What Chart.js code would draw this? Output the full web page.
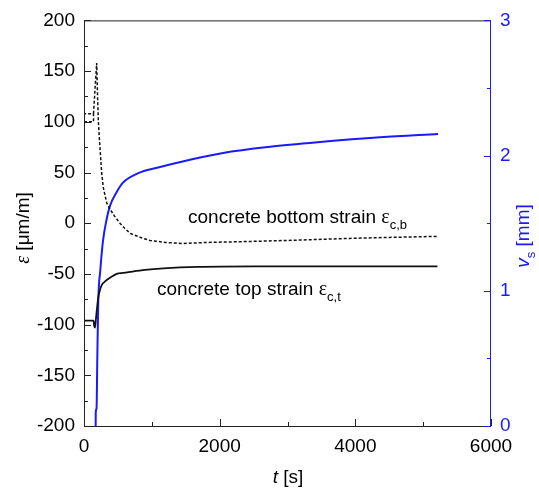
<!DOCTYPE html>
<html>
<head>
<meta charset="utf-8">
<script src="https://cdn.jsdelivr.net/npm/chart.js@4"></script>
<style>
  body { margin: 0; background: #fff; }
  #wrap { width: 539px; height: 491px; }
</style>
</head>
<body>
<div id="wrap"><canvas id="strainChart" width="539" height="491"></canvas></div>
<script>
// concrete bottom strain (dashed), null = break in the line
var bottomT = [0, 140, 140, 0, null, 140, 165, 187, 200, 212, 225, 240, 260, 285, 335, 383, 450, 530, 600, 680, 870, 975, 1200, 1460, 1800, 2450, 3000, 3920, 4500, 5210];
var bottomStrain = [100, 100, 108, 108, null, 108, 135, 158, 125, 100, 85, 70, 50, 35, 20, 14, 7, 0, -5, -10, -15, -17, -19, -20, -19, -18, -17, -15, -14, -13];

// concrete top strain (solid)
var topT = [0, 140, 150, 162, 175, 190, 211, 235, 261, 300, 335, 400, 482, 580, 678, 900, 1170, 1670, 2500, 3500, 4500, 5210];
var topStrain = [-96, -96, -101, -103, -95, -85, -73, -66, -61, -58, -56, -53, -50, -49, -48, -46, -44.5, -43, -42.5, -42.5, -42.5, -42.5];

// slip v_s (blue, right axis)
var slipT = [172, 173, 185, 196, 211, 240, 280, 330, 384, 470, 575, 800, 1077, 1563, 2050, 2743, 3480, 4366, 5220];
var slip = [0, 0.1, 0.13, 0.5, 0.93, 1.15, 1.37, 1.52, 1.63, 1.72, 1.80, 1.87, 1.91, 1.97, 2.02, 2.065, 2.10, 2.135, 2.16];

var xTicks = [0, 2000, 4000, 6000];
var yTicks = [-200, -150, -100, -50, 0, 50, 100, 150, 200];
var y2Ticks = [0, 1, 2, 3];

var BLUE = '#1a1aff';
var FONT = '"Liberation Sans", Arial, sans-serif';

function pts(xs, ys) {
    return xs.map(function(x, i) {
        return { x: x === null ? NaN : x, y: ys[i] };
    });
}

var framePlugin = {
    id: 'frame',
    afterDraw: function(chart) {
        var ctx = chart.ctx;
        var a = chart.chartArea;
        var sx = chart.scales.x, sy = chart.scales.y, sy2 = chart.scales.y2;
        ctx.save();
        ctx.lineWidth = 1;

        // frame
        ctx.strokeStyle = '#222';
        ctx.beginPath();
        ctx.moveTo(a.right, a.top + 0.5);
        ctx.lineTo(a.left + 0.5, a.top + 0.5);
        ctx.lineTo(a.left + 0.5, a.bottom + 0.5);
        ctx.lineTo(a.right, a.bottom + 0.5);
        ctx.stroke();

        // inward ticks
        ctx.beginPath();
        for (var t = 0; t <= 6000; t += 1000) {
            var px = Math.round(sx.getPixelForValue(t)) + 0.5;
            var len = t % 2000 === 0 ? 7 : 4;
            ctx.moveTo(px, a.bottom);
            ctx.lineTo(px, a.bottom - len);
        }
        for (var v = -200; v <= 200; v += 25) {
            var py = Math.round(sy.getPixelForValue(v)) + 0.5;
            var l2 = v % 50 === 0 ? 7 : 4;
            ctx.moveTo(a.left, py);
            ctx.lineTo(a.left + l2, py);
        }
        ctx.stroke();

        ctx.strokeStyle = BLUE;
        ctx.beginPath();
        ctx.moveTo(a.right - 0.5, a.top);
        ctx.lineTo(a.right - 0.5, a.bottom + 1);
        for (var s = 0; s <= 3; s += 0.5) {
            var py2 = Math.round(sy2.getPixelForValue(s)) + 0.5;
            var l3 = s % 1 === 0 ? 7 : 4;
            ctx.moveTo(a.right, py2);
            ctx.lineTo(a.right - l3, py2);
        }
        ctx.stroke();

        ctx.fillStyle = '#000';
        ctx.textBaseline = 'middle';

        // curve labels
        drawLabel(ctx, sx.getPixelForValue(1534), sy.getPixelForValue(5), 'concrete bottom strain ', 'c,b');
        drawLabel(ctx, sx.getPixelForValue(1077), sy.getPixelForValue(-66), 'concrete top strain ', 'c,t');

        // x title
        ctx.font = 'italic 19px ' + FONT;
        var w1 = ctx.measureText('t').width;
        ctx.font = '19px ' + FONT;
        var w2 = ctx.measureText(' [s]').width;
        var x0 = 288 - (w1 + w2) / 2;
        ctx.font = 'italic 19px ' + FONT;
        ctx.fillText('t', x0, 478);
        ctx.font = '19px ' + FONT;
        ctx.fillText(' [s]', x0 + w1, 478);

        // left title
        ctx.save();
        ctx.translate(24, 228);
        ctx.rotate(-Math.PI / 2);
        ctx.font = 'italic 20px "Liberation Serif", serif';
        var e1 = ctx.measureText('\u03b5').width;
        ctx.font = '19px ' + FONT;
        var e2 = ctx.measureText(' [\u03bcm/m]').width;
        var ex = -(e1 + e2) / 2;
        ctx.font = 'italic 20px "Liberation Serif", serif';
        ctx.fillText('\u03b5', ex, 0);
        ctx.font = '19px ' + FONT;
        ctx.fillText(' [\u03bcm/m]', ex + e1, 0);
        ctx.restore();

        // right title
        ctx.save();
        ctx.fillStyle = BLUE;
        ctx.translate(524, 236);
        ctx.rotate(-Math.PI / 2);
        ctx.font = 'italic 19px ' + FONT;
        var r1 = ctx.measureText('v').width;
        ctx.font = '13px ' + FONT;
        var r2 = ctx.measureText('s').width;
        ctx.font = '19px ' + FONT;
        var r3 = ctx.measureText(' [mm]').width;
        var rx = -(r1 + r2 + r3) / 2;
        ctx.font = 'italic 19px ' + FONT;
        ctx.fillText('v', rx, 0);
        ctx.font = '13px ' + FONT;
        ctx.fillText('s', rx + r1, 7);
        ctx.font = '19px ' + FONT;
        ctx.fillText(' [mm]', rx + r1 + r2, 0);
        ctx.restore();

        ctx.restore();
    }
};

function drawLabel(ctx, x, y, text, sub) {
    ctx.font = '19px ' + FONT;
    ctx.fillText(text, x, y);
    var w = ctx.measureText(text).width;
    ctx.font = '20px "Liberation Serif", serif';
    ctx.fillText('\u03b5', x + w, y);
    var we = ctx.measureText('\u03b5').width;
    ctx.font = '13px ' + FONT;
    ctx.fillText(sub, x + w + we, y + 7);
}

function plain(value) {
    return String(value);
}

var ctx = document.getElementById('strainChart').getContext('2d');
new Chart(ctx, {
    type: 'line',
    data: {
        datasets: [{
            label: 'concrete bottom strain',
            data: pts(bottomT, bottomStrain),
            yAxisID: 'y',
            borderColor: '#111',
            borderWidth: 1.5,
            borderDash: [3, 2],
            pointRadius: 0,
            tension: 0,
            spanGaps: false
        }, {
            label: 'concrete top strain',
            data: pts(topT, topStrain),
            yAxisID: 'y',
            borderColor: '#111',
            borderWidth: 1.8,
            pointRadius: 0,
            cubicInterpolationMode: 'monotone'
        }, {
            label: 'slip',
            data: pts(slipT, slip),
            yAxisID: 'y2',
            borderColor: BLUE,
            borderWidth: 2,
            pointRadius: 0,
            cubicInterpolationMode: 'monotone'
        }]
    },
    options: {
        responsive: false,
        animation: false,
        parsing: false,
        layout: { padding: { top: 20, left: 0, right: 0, bottom: 0 } },
        plugins: {
            legend: { display: false },
            tooltip: { enabled: false }
        },
        scales: {
            x: {
                type: 'linear',
                min: 0,
                max: 6000,
                grid: { display: false, drawTicks: false },
                border: { display: false },
                afterBuildTicks: function(scale) {
                    scale.ticks = xTicks.map(function(v) { return { value: v }; });
                },
                afterFit: function(scale) { scale.height = 65; },
                ticks: { color: '#000', font: { family: FONT, size: 19 }, padding: 9, maxRotation: 0, callback: plain }
            },
            y: {
                position: 'left',
                min: -200,
                max: 200,
                grid: { display: false, drawTicks: false },
                border: { display: false },
                afterBuildTicks: function(scale) {
                    scale.ticks = yTicks.map(function(v) { return { value: v }; });
                },
                afterFit: function(scale) { scale.width = 84; },
                ticks: { color: '#000', font: { family: FONT, size: 19 }, padding: 9, callback: plain }
            },
            y2: {
                position: 'right',
                min: 0,
                max: 3,
                grid: { display: false, drawTicks: false },
                border: { display: false },
                afterBuildTicks: function(scale) {
                    scale.ticks = y2Ticks.map(function(v) { return { value: v }; });
                },
                afterFit: function(scale) { scale.width = 48; },
                ticks: { color: BLUE, font: { family: FONT, size: 19 }, padding: 9, callback: plain }
            }
        }
    },
    plugins: [framePlugin]
});
</script>
</body>
</html>
